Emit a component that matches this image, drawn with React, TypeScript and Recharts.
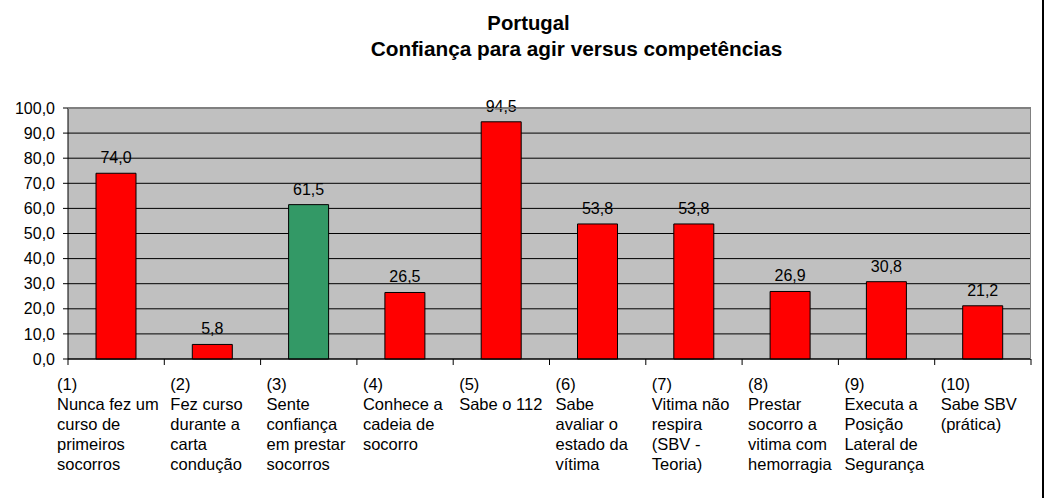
import { Bar, BarChart, CartesianGrid, Cell, LabelList, XAxis, YAxis } from "recharts";

const categoryLines: string[][] = [
  ["(1)", "Nunca fez um", "curso de", "primeiros", "socorros"],
  ["(2)", "Fez curso", "durante a", "carta", "condução"],
  ["(3)", "Sente", "confiança", "em prestar", "socorros"],
  ["(4)", "Conhece a", "cadeia de", "socorro"],
  ["(5)", "Sabe o 112"],
  ["(6)", "Sabe", "avaliar o", "estado da", "vítima"],
  ["(7)", "Vitima não", "respira", "(SBV -", "Teoria)"],
  ["(8)", "Prestar", "socorro a", "vitima com", "hemorragia"],
  ["(9)", "Executa a", "Posição", "Lateral de", "Segurança"],
  ["(10)", "Sabe SBV", "(prática)"],
];

const values = [74.0, 5.8, 61.5, 26.5, 94.5, 53.8, 53.8, 26.9, 30.8, 21.2];
// only "Sente confiança" is drawn in green
const barColors = ["#FF0000", "#FF0000", "#339966", "#FF0000", "#FF0000", "#FF0000", "#FF0000", "#FF0000", "#FF0000", "#FF0000"];
const yTicks = [0, 10, 20, 30, 40, 50, 60, 70, 80, 90, 100];

const data = values.map((v, i) => ({ key: `c${i + 1}`, value: v }));

const W = 1053;
const H = 498;
const PLOT_LEFT = 68;
const PLOT_RIGHT = 1031;
const PLOT_TOP = 108;
const PLOT_BOTTOM = 359;
const BAND = (PLOT_RIGHT - PLOT_LEFT) / values.length;
const FONT = '"Liberation Sans", Arial, sans-serif';

const comma = (v: number) => v.toFixed(1).replace(".", ",");

function CategoryTick(props: any) {
  const { x, y, index } = props;
  const lines = categoryLines[index] ?? [];
  const left = x - BAND / 2;
  const nudge = index === 0 ? -11 : 6;
  return (
    <g>
      <line x1={left} x2={left} y1={y} y2={y + 6} stroke="#000" />
      {index === values.length - 1 && (
        <line x1={x + BAND / 2} x2={x + BAND / 2} y1={y} y2={y + 6} stroke="#000" />
      )}
      <text x={left + nudge} y={y + 31} fontSize={16.5} fill="#000" fontFamily={FONT}>
        {lines.map((l, i) => (
          <tspan key={i} x={left + nudge} dy={i === 0 ? 0 : 20}>
            {l}
          </tspan>
        ))}
      </text>
    </g>
  );
}

export default function App() {
  return (
    <div style={{ position: "absolute", left: 0, top: 0, width: W, height: H, background: "#fff", fontFamily: FONT }}>
      <div style={{ position: "absolute", top: 12, left: 0, width: 1057, textAlign: "center", fontSize: 20.3, fontWeight: "bold" }}>
        Portugal
      </div>
      <div style={{ position: "absolute", top: 37, left: 0, width: 1153, textAlign: "center", fontSize: 20.8, fontWeight: "bold" }}>
        Confiança para agir versus competências
      </div>
      <BarChart
        width={W}
        height={H}
        data={data}
        margin={{ top: PLOT_TOP, right: W - PLOT_RIGHT, bottom: 9, left: 0 }}
      >
        <CartesianGrid vertical={false} stroke="#000" fill="#C0C0C0" fillOpacity={1} />
        <XAxis
          dataKey="key"
          height={H - PLOT_BOTTOM - 9}
          interval={0}
          tickSize={0}
          tickMargin={0}
          tickLine={false}
          axisLine={{ stroke: "#000" }}
          tick={<CategoryTick />}
        />
        <YAxis
          width={PLOT_LEFT}
          domain={[0, 100]}
          ticks={yTicks}
          tickSize={5}
          tickMargin={8}
          tickFormatter={comma}
          axisLine={{ stroke: "#000" }}
          tickLine={{ stroke: "#000" }}
          tick={{ fontSize: 16, fill: "#000", fontFamily: FONT }}
        />
        <Bar dataKey="value" barSize={40} stroke="#000" strokeWidth={1} isAnimationActive={false}>
          {data.map((_, i) => (
            <Cell key={i} fill={barColors[i]} />
          ))}
          <LabelList
            dataKey="value"
            position="top"
            offset={10}
            formatter={(v: any) => comma(Number(v))}
            style={{ fontSize: 16, fill: "#000", fontFamily: FONT }}
          />
        </Bar>
      </BarChart>
      <div
        style={{
          position: "absolute",
          left: PLOT_LEFT,
          top: PLOT_TOP,
          width: PLOT_RIGHT - PLOT_LEFT,
          height: PLOT_BOTTOM - PLOT_TOP,
          borderTop: "1px solid #808080",
          borderRight: "1px solid #808080",
          boxSizing: "border-box",
          pointerEvents: "none",
        }}
      />
      <div style={{ position: "absolute", left: 1042, top: 0, width: 2, height: H, background: "#000" }} />
    </div>
  );
}
